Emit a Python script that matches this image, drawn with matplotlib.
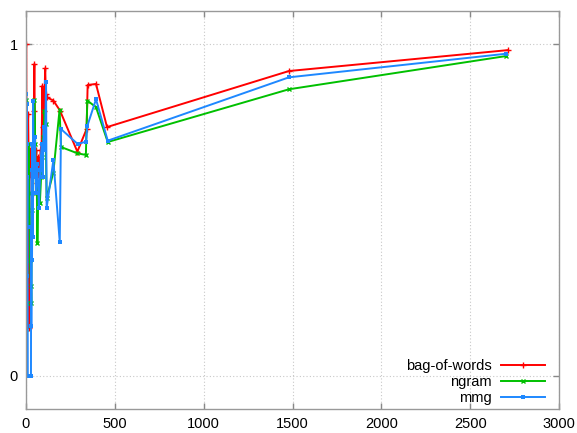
import matplotlib
matplotlib.use("Agg")
import matplotlib.pyplot as plt

# ---- data ----
bow_x = [0, 1, 2, 3, 5, 8, 12, 15, 18, 20, 24, 28, 32, 38, 44, 47, 52, 58, 62, 68, 75, 82,
         88, 92, 97, 102, 108, 112, 116, 154, 191, 289, 341, 347, 394, 456, 1480, 2711]
bow_y = [0.22, 1.0, 0.60, 0.55, 0.70, 0.60, 0.79, 0.65, 0.145, 0.68, 0.64, 0.60, 0.66, 0.55,
         0.80, 0.94, 0.62, 0.68, 0.58, 0.66, 0.60, 0.68, 0.70, 0.874, 0.75, 0.80, 0.927, 0.85,
         0.84, 0.83, 0.80, 0.676, 0.744, 0.877, 0.88, 0.75, 0.919, 0.982]

ngram_x = [0, 1, 2, 3, 4, 6, 10, 14, 18, 22, 28, 30, 32, 38, 44, 47, 52, 56, 60, 64, 70, 78,
           85, 92, 98, 104, 110, 116, 154, 189, 197, 289, 337, 345, 394, 460, 1480, 2700]
ngram_y = [0.14, 0.31, 0.833, 0.53, 0.22, 0.60, 0.45, 0.70, 0.55, 0.35, 0.27, 0.22, 0.50,
           0.62, 0.60, 0.833, 0.70, 0.55, 0.62, 0.40, 0.58, 0.52, 0.60, 0.66, 0.72, 0.80,
           0.76, 0.535, 0.613, 0.803, 0.69, 0.671, 0.666, 0.83, 0.81, 0.705, 0.864, 0.964]

mmg_x = [0, 1, 2, 3, 4, 5, 6, 8, 10, 28, 29, 30, 32, 34, 36, 38, 40, 44, 50, 56, 62, 68, 73,
         80, 88, 94, 100, 106, 113, 116, 154, 190, 197, 291, 338, 345, 394, 460, 1480, 2700]
mmg_y = [0.55, 0.85, 0.20, 0.70, 0.30, 0.82, 0.45, 0.60, 0.0, 0.0, 0.45, 0.15, 0.62, 0.35,
         0.70, 0.42, 0.83, 0.60, 0.72, 0.55, 0.64, 0.58, 0.505, 0.62, 0.70, 0.60, 0.75, 0.68,
         0.886, 0.505, 0.65, 0.403, 0.744, 0.699, 0.706, 0.753, 0.834, 0.709, 0.90, 0.971]

labels = ["bag-of-words", "ngram", "mmg"]
x_ticks = [0, 500, 1000, 1500, 2000, 2500, 3000]
y_ticks = [0, 1]

plt.rcParams['font.family'] = ['Liberation Sans', 'DejaVu Sans']

fig = plt.figure(figsize=(5.77, 4.33), dpi=100)
ax = fig.add_axes([26/577, 1 - 409/433, 533/577, 398/433])

ax.plot(bow_x, bow_y, color='#ff0000', lw=1.4, marker='+', ms=5, mew=1.0, label=labels[0])
ax.plot(ngram_x, ngram_y, color='#00c000', lw=1.4, marker='x', ms=3.5, mew=1.0, label=labels[1])
ax.plot(mmg_x, mmg_y, color='#1e88ff', lw=1.4, marker='s', ms=3.5, mew=0, label=labels[2])

ax.set_xlim(0, 3000)
ax.set_ylim(-0.1, 1.1)
ax.set_xticks(x_ticks)
ax.set_yticks(y_ticks)
ax.set_xticklabels([str(t) for t in x_ticks])
ax.set_yticklabels([str(t) for t in y_ticks])
ax.tick_params(direction='in', top=True, right=True, length=4, width=1,
               color='#888888', labelsize=10.5, pad=6)
ax.grid(True, color='#c8c8c8', linestyle=(0, (1, 2)), linewidth=0.8)
for s in ax.spines.values():
    s.set_color('#999999')
    s.set_linewidth(1.0)

leg = ax.legend(loc='lower right', bbox_to_anchor=(0.984, -0.005), frameon=False,
                markerfirst=False, fontsize=10.5, handlelength=3.0, handletextpad=0.6,
                labelspacing=0.15, borderaxespad=0.0)
for t in leg.get_texts():
    t.set_ha('right')

fig.savefig('out.png', dpi=100)
